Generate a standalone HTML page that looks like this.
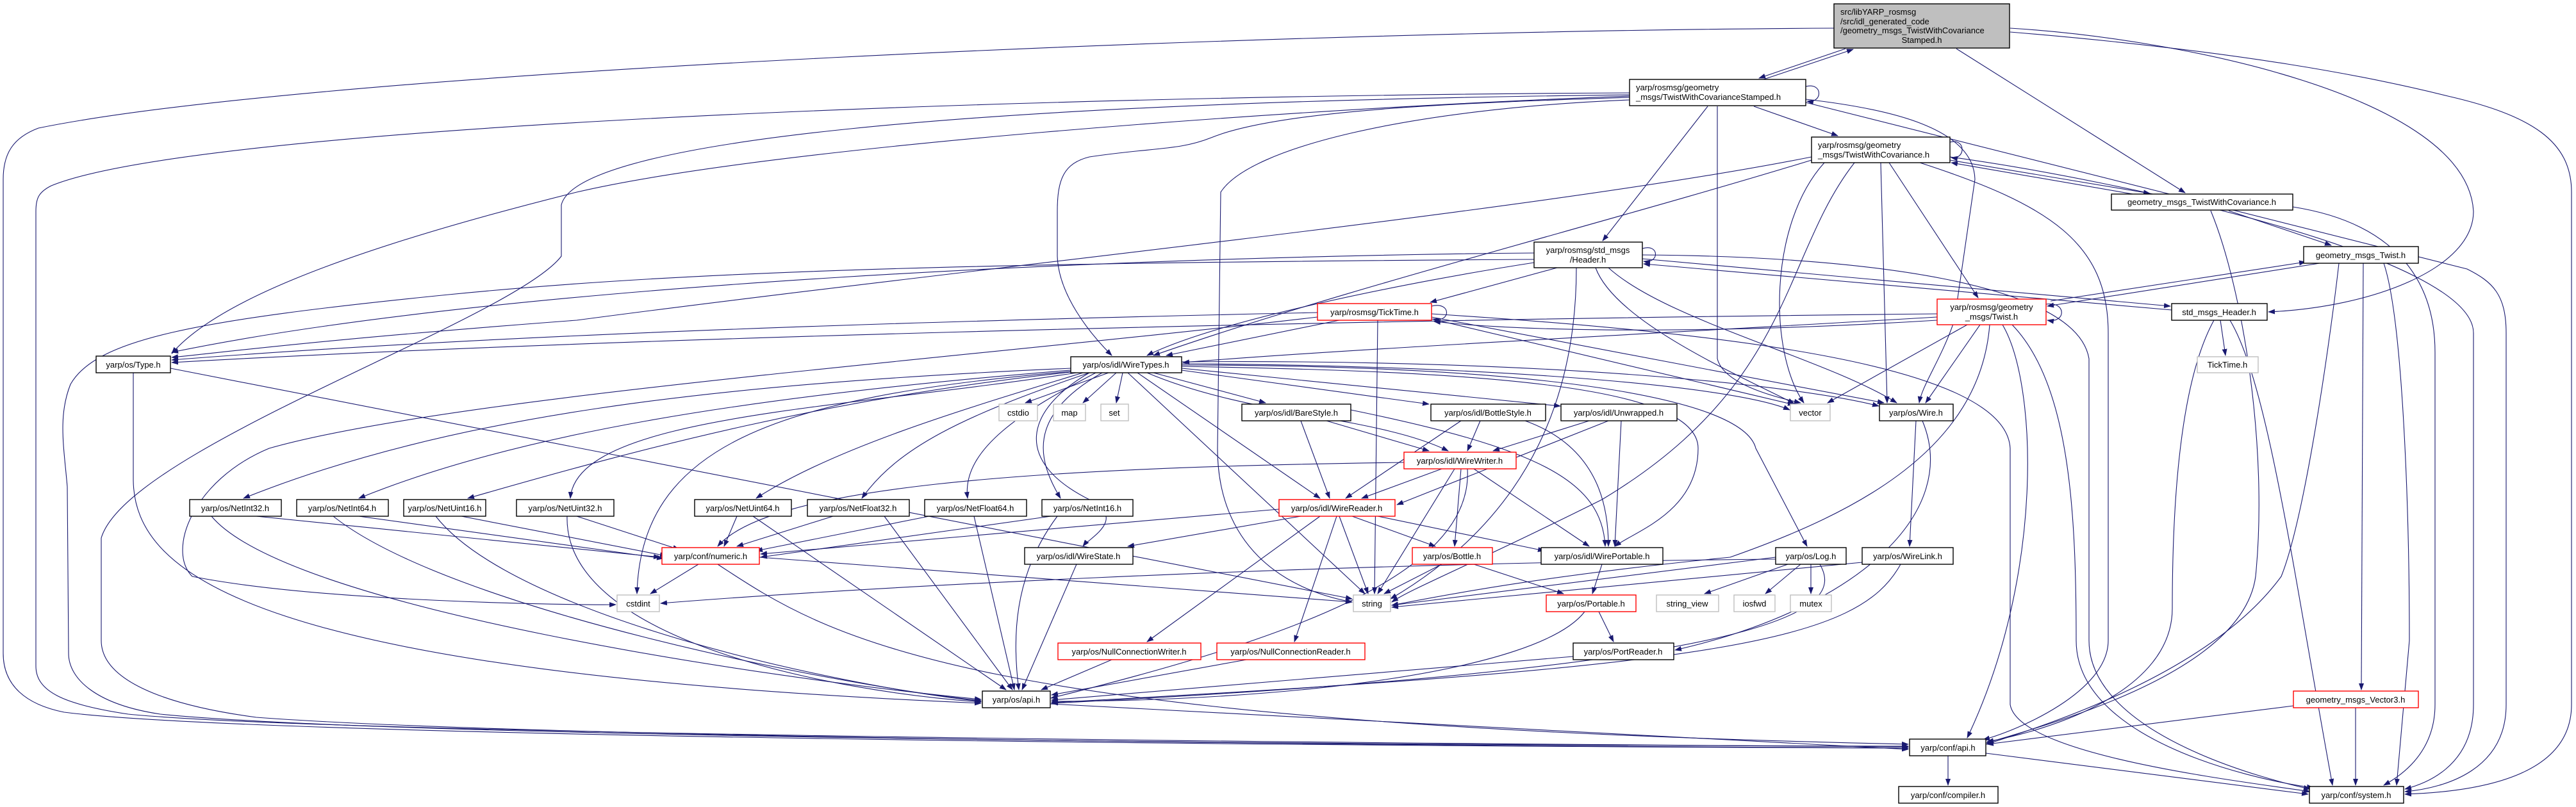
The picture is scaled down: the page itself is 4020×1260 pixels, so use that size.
<!DOCTYPE html>
<html><head><meta charset="utf-8"><style>
html,body{margin:0;padding:0;background:#fff;}
svg{display:block;}
text{font-family:"Liberation Sans",sans-serif;font-size:13px;fill:#000;}
.e{fill:none;stroke:#191970;stroke-width:1.1;}
.n{fill:#fff;stroke:#000;stroke-width:1.4;}
.r{fill:#fff;stroke:#ff0000;stroke-width:1.4;}
.g{fill:#fff;stroke:#bfbfbf;stroke-width:1.4;}
</style></head><body>
<svg width="4020" height="1260" viewBox="0 0 4020 1260" xmlns="http://www.w3.org/2000/svg">
<defs><marker id="a" markerWidth="11" markerHeight="8" refX="10" refY="4" orient="auto" markerUnits="userSpaceOnUse"><path d="M0,0 L11,4 L0,8 z" fill="#191970"/></marker></defs>
<g class="e" marker-end="url(#a)">
<!-- T -->
<path d="M2880,76 L2745,122"/>
<path d="M2752,124 L2892,77"/>
<path d="M3053,76 L3410,301"/>
<path d="M2862,44 C2000,48 500,110 60,200 C20,215 5,240 5,280 L5,1020 C5,1070 40,1100 100,1112 C400,1150 2000,1165 2978,1168"/>
<path d="M3137,44 C3400,60 3850,150 3860,330 C3860,420 3700,480 3540,487"/>
<path d="M3137,50 C3500,80 3700,120 3820,150 C3950,180 4013,220 4013,300 L4013,1100 C4013,1200 3900,1235 3753,1240"/>
<!-- S -->
<path d="M2818,135 C2845,128 2845,162 2820,158"/>
<path d="M2737,166 L2868,212"/>
<path d="M2665,166 L2501,376"/>
<path d="M2543,148 C1500,160 900,220 876,320 L876,400 C800,500 200,700 158,840 L158,1000 C158,1060 250,1100 400,1120 C800,1150 2000,1163 2978,1168"/>
<path d="M2543,145 C1500,150 300,200 80,290 C60,300 56,310 56,330 L56,1040 C56,1080 100,1100 200,1115 C500,1145 2000,1160 2978,1166"/>
<path d="M2543,150 C2000,170 1200,230 900,300 C500,400 330,480 268,552"/>
<path d="M2543,152 C2300,160 2000,170 1890,215 C1840,235 1800,230 1700,245 C1660,255 1650,280 1650,330 L1650,400 C1652,460 1700,520 1735,555"/>
<path d="M2543,156 C2200,170 1950,230 1905,300 L1900,700 C1900,850 2000,920 2110,940"/>
<path d="M2680,166 L2680,560 C2690,600 2770,620 2810,629"/>
<path d="M2818,155 C2950,170 3080,200 3082,280 L3050,500 C3030,560 3000,600 2995,629"/>
<path d="M2818,160 L3850,420 C3890,440 3911,460 3911,520 L3911,1100 C3911,1200 3820,1230 3753,1236"/>
<!-- TC -->
<path d="M3043,222 C3068,215 3068,250 3045,246"/>
<path d="M3043,250 L3355,302"/>
<path d="M3340,305 L3045,254"/>
<path d="M3043,245 C3300,280 3860,400 3860,520 L3860,1100 C3860,1200 3780,1225 3753,1232"/>
<path d="M2827,245 C2400,330 1500,420 900,500 C500,530 350,550 268,558"/>
<path d="M2827,250 C2500,350 2100,450 1800,555"/>
<path d="M2847,254 C2760,350 2760,550 2815,629"/>
<path d="M2935,254 L2945,629"/>
<path d="M2948,254 L3087,465"/>
<path d="M2894,254 C2780,400 2800,600 2500,780 C2300,880 2200,920 2172,940"/>
<path d="M2996,254 C3200,320 3290,380 3290,520 L3290,1000 C3290,1080 3150,1140 3095,1155"/>
<!-- gmTC -->
<path d="M3478,329 L3638,383"/>
<path d="M3450,329 C3500,450 3540,700 3520,900 C3500,1050 3200,1130 3100,1160"/>
<path d="M3578,323 C3750,350 3800,450 3800,550 L3800,1100 C3800,1180 3740,1215 3720,1226"/>
<!-- gmTw -->
<path d="M3620,411 L3195,478"/>
<path d="M3200,470 L3598,409"/>
<path d="M3688,411 L3685,1077"/>
<path d="M3650,411 C3640,500 3600,800 3560,900 C3450,1050 3200,1130 3100,1162"/>
<path d="M3720,411 C3750,500 3760,800 3760,1000 L3740,1226"/>
<!-- Hd -->
<path d="M2563,388 C2590,380 2590,412 2565,408"/>
<path d="M2563,404 L3387,478"/>
<path d="M3389,484 L2565,412"/>
<path d="M2563,398 C2900,400 3240,440 3260,560 L3260,1000 C3260,1150 3550,1220 3605,1232"/>
<path d="M2394,395 C1800,400 800,440 268,550"/>
<path d="M2430,418 L2232,472"/>
<path d="M2394,410 C2200,440 1900,500 1790,555"/>
<path d="M2490,418 C2520,500 2700,580 2800,630"/>
<path d="M2510,418 C2600,500 2850,560 2960,629"/>
<path d="M2460,418 C2460,600 2400,800 2170,935"/>
<path d="M2394,405 C1600,410 1100,420 700,460 C300,500 150,530 110,600 C90,650 100,700 105,760 L107,1020 C107,1060 150,1100 250,1115 C600,1150 2000,1163 2978,1165"/>
<!-- TT -->
<path d="M2234,478 C2265,470 2265,505 2236,498"/>
<path d="M2056,488 C1500,500 800,520 268,562"/>
<path d="M2090,500 L1820,555"/>
<path d="M2150,500 L2145,927"/>
<path d="M2234,490 C2700,520 3130,570 3137,700 L3137,1100 C3150,1180 3500,1220 3605,1236"/>
<path d="M2234,495 L2940,629"/>
<path d="M2230,497 L2800,632"/>
<path d="M2056,495 C1500,560 700,620 420,700 C300,750 260,860 300,900 C500,940 900,945 961,944"/>
<!-- Tw -->
<path d="M3193,475 C3225,470 3225,505 3195,500"/>
<path d="M3023,490 C2000,500 900,530 268,566"/>
<path d="M3023,495 C2600,520 2100,545 1846,566"/>
<path d="M3070,507 L2852,629"/>
<path d="M3090,507 L3005,629"/>
<path d="M3105,507 C3090,700 2900,800 2700,870 C2400,900 2250,930 2172,945"/>
<path d="M3125,507 C3180,600 3190,900 3070,1152"/>
<path d="M3140,507 C3230,600 3240,800 3240,1000 C3240,1150 3500,1215 3610,1230"/>
<path d="M3023,500 C2700,520 2400,520 2238,502"/>
<!-- WT -->
<path d="M1730,582 L1600,629"/>
<path d="M1742,582 L1690,629"/>
<path d="M1752,582 L1742,629"/>
<path d="M1800,582 L1975,629"/>
<path d="M1844,578 L2230,631"/>
<path d="M1844,575 L2435,634"/>
<path d="M1844,568 C2300,570 2700,600 2793,640"/>
<path d="M1844,565 C2400,560 2800,600 2932,634"/>
<path d="M1790,582 C1950,650 2150,650 2260,704"/>
<path d="M1775,582 L2060,778"/>
<path d="M1844,572 C2300,580 2650,600 2650,700 C2650,800 2550,830 2520,853"/>
<path d="M1844,570 C2400,570 2720,620 2740,700 L2820,853"/>
<path d="M1760,582 L2130,927"/>
<path d="M1700,582 C1600,640 1580,720 1700,780 C1760,810 1700,840 1690,853"/>
<path d="M1671,575 C1100,600 700,650 380,778"/>
<path d="M1671,578 C1150,620 800,680 560,778"/>
<path d="M1680,580 C1300,620 1000,700 730,778"/>
<path d="M1680,582 C1300,640 900,650 890,778"/>
<path d="M1690,582 C1500,640 1300,700 1180,778"/>
<path d="M1700,582 C1500,650 1400,700 1345,778"/>
<path d="M1710,582 C1600,640 1500,700 1510,778"/>
<path d="M1720,582 C1600,650 1620,720 1655,778"/>
<path d="M1671,580 C1200,620 1000,700 994,927"/>
<!-- WW -->
<path d="M2250,732 L2125,778"/>
<path d="M2300,732 L2480,853"/>
<path d="M2191,722 C1600,730 1200,760 1120,853"/>
<path d="M2270,732 L2150,927"/>
<path d="M2280,732 L2270,853"/>
<path d="M2290,732 C2300,900 2000,1000 1640,1090"/>
<!-- WR -->
<path d="M1996,795 L1187,865"/>
<path d="M2030,806 L1760,853"/>
<path d="M2110,806 L2240,853"/>
<path d="M2150,806 L2410,860"/>
<path d="M2090,806 L2135,927"/>
<path d="M2060,806 L1790,1002"/>
<path d="M2086,806 L2020,1002"/>
<!-- styles -->
<path d="M2070,657 L2230,704"/>
<path d="M2030,657 L2075,778"/>
<path d="M2108,640 C2400,700 2500,750 2505,853"/>
<path d="M2310,657 L2290,704"/>
<path d="M2280,657 L2100,778"/>
<path d="M2380,657 C2500,700 2510,800 2510,853"/>
<path d="M2480,657 L2330,704"/>
<path d="M2510,657 L2180,788"/>
<path d="M2530,657 L2520,853"/>
<!-- Net -->
<path d="M400,806 L1030,870"/>
<path d="M330,806 C450,950 1200,1060 1531,1092"/>
<path d="M560,806 L1035,872"/>
<path d="M520,806 C700,950 1300,1070 1531,1094"/>
<path d="M720,806 L1040,868"/>
<path d="M680,806 C800,960 1300,1070 1531,1095"/>
<path d="M900,806 L1060,858"/>
<path d="M885,806 C880,1000 1300,1080 1531,1096"/>
<path d="M1150,806 L1130,853"/>
<path d="M1175,806 L1570,1077"/>
<path d="M1300,806 L1150,853"/>
<path d="M1380,806 L1580,1077"/>
<path d="M1450,806 L1180,860"/>
<path d="M1520,806 L1583,1077"/>
<path d="M1640,806 L1187,870"/>
<path d="M1650,806 C1580,900 1580,1000 1590,1077"/>
<!-- num -->
<path d="M1090,881 L1015,927"/>
<path d="M1120,881 C1300,1000 1500,1130 2978,1162"/>
<path d="M1185,870 L2110,940"/>
<!-- Type -->
<path d="M208,582 L208,750 C210,900 400,1050 1531,1098"/>
<path d="M266,575 L2110,935"/>
<!-- misc -->
<path d="M2990,657 L2980,853"/>
<path d="M3000,657 C3060,800 2900,950 2614,1015"/>
<path d="M2500,881 L2485,927"/>
<path d="M2250,881 L2160,927"/>
<path d="M2300,881 L2440,927"/>
<path d="M2495,955 L2518,1002"/>
<path d="M2473,955 C2400,1050 2000,1095 1641,1095"/>
<path d="M2455,1025 L1641,1093"/>
<path d="M2771,870 L2172,945"/>
<path d="M2790,881 L2660,927"/>
<path d="M2810,881 L2755,927"/>
<path d="M2826,881 L2826,927"/>
<path d="M2771,873 C2000,880 1300,920 1031,942"/>
<path d="M2840,881 C2880,950 2800,1040 1641,1098"/>
<path d="M2906,878 L2172,948"/>
<path d="M2966,881 C2900,1000 2700,1040 1641,1097"/>
<path d="M1680,881 L1595,1077"/>
<path d="M1735,1030 L1625,1077"/>
<path d="M1945,1030 L1641,1085"/>
<path d="M1639,1099 L2978,1170"/>
<path d="M3040,1180 L3040,1226"/>
<path d="M3099,1176 L3602,1240"/>
<path d="M3579,1102 L3101,1162"/>
<path d="M3676,1105 L3676,1226"/>
<path d="M3465,500 L3473,555"/>
<path d="M3455,500 C3400,600 3390,800 3390,950 C3390,1080 3200,1140 3101,1158"/>
<path d="M3480,500 C3540,600 3580,900 3640,1226"/>
</g>
<!-- nodes -->
<rect x="2862" y="6" width="274" height="69" fill="#bfbfbf" stroke="#000" stroke-width="1.4"/>
<text x="2872" y="23">src/libYARP_rosmsg</text>
<text x="2872" y="38">/src/idl_generated_code</text>
<text x="2872" y="52">/geometry_msgs_TwistWithCovariance</text>
<text x="2999" y="67" text-anchor="middle">Stamped.h</text>

<rect class="n" x="2543" y="124" width="275" height="41"/>
<text x="2553" y="141">yarp/rosmsg/geometry</text>
<text x="2553" y="156">_msgs/TwistWithCovarianceStamped.h</text>

<rect class="n" x="2827" y="214" width="216" height="40"/>
<text x="2837" y="231">yarp/rosmsg/geometry</text>
<text x="2837" y="246">_msgs/TwistWithCovariance.h</text>

<rect class="n" x="3295" y="303" width="283" height="25"/><text x="3436" y="320" text-anchor="middle">geometry_msgs_TwistWithCovariance.h</text>
<rect class="n" x="3595" y="385" width="179" height="26"/><text x="3684" y="403" text-anchor="middle">geometry_msgs_Twist.h</text>

<rect class="n" x="2394" y="378" width="169" height="40"/>
<text x="2478" y="395" text-anchor="middle">yarp/rosmsg/std_msgs</text>
<text x="2478" y="410" text-anchor="middle">/Header.h</text>

<rect class="r" x="2056" y="474" width="178" height="26"/><text x="2145" y="492" text-anchor="middle">yarp/rosmsg/TickTime.h</text>

<rect class="r" x="3023" y="467" width="170" height="40"/>
<text x="3108" y="484" text-anchor="middle">yarp/rosmsg/geometry</text>
<text x="3108" y="499" text-anchor="middle">_msgs/Twist.h</text>

<rect class="n" x="3389" y="474" width="149" height="26"/><text x="3463" y="492" text-anchor="middle">std_msgs_Header.h</text>
<rect class="g" x="3429" y="557" width="95" height="25"/><text x="3476" y="574" text-anchor="middle">TickTime.h</text>

<rect class="n" x="150" y="556" width="116" height="26"/><text x="208" y="574" text-anchor="middle">yarp/os/Type.h</text>
<rect class="n" x="1671" y="557" width="173" height="25"/><text x="1757" y="574" text-anchor="middle">yarp/os/idl/WireTypes.h</text>

<rect class="g" x="1559" y="631" width="60" height="26"/><text x="1589" y="649" text-anchor="middle">cstdio</text>
<rect class="g" x="1644" y="631" width="50" height="26"/><text x="1669" y="649" text-anchor="middle">map</text>
<rect class="g" x="1718" y="631" width="43" height="26"/><text x="1739" y="649" text-anchor="middle">set</text>
<rect class="n" x="1938" y="631" width="170" height="26"/><text x="2023" y="649" text-anchor="middle">yarp/os/idl/BareStyle.h</text>
<rect class="n" x="2233" y="631" width="179" height="26"/><text x="2322" y="649" text-anchor="middle">yarp/os/idl/BottleStyle.h</text>
<rect class="n" x="2436" y="631" width="181" height="26"/><text x="2526" y="649" text-anchor="middle">yarp/os/idl/Unwrapped.h</text>
<rect class="g" x="2794" y="631" width="62" height="26"/><text x="2825" y="649" text-anchor="middle">vector</text>
<rect class="n" x="2933" y="631" width="115" height="26"/><text x="2990" y="649" text-anchor="middle">yarp/os/Wire.h</text>

<rect class="r" x="2191" y="706" width="175" height="26"/><text x="2278" y="724" text-anchor="middle">yarp/os/idl/WireWriter.h</text>

<rect class="n" x="296" y="780" width="143" height="26"/><text x="367" y="798" text-anchor="middle">yarp/os/NetInt32.h</text>
<rect class="n" x="463" y="780" width="143" height="26"/><text x="534" y="798" text-anchor="middle">yarp/os/NetInt64.h</text>
<rect class="n" x="630" y="780" width="128" height="26"/><text x="694" y="798" text-anchor="middle">yarp/os/NetUint16.h</text>
<rect class="n" x="806" y="780" width="152" height="26"/><text x="882" y="798" text-anchor="middle">yarp/os/NetUint32.h</text>
<rect class="n" x="1084" y="780" width="151" height="26"/><text x="1159" y="798" text-anchor="middle">yarp/os/NetUint64.h</text>
<rect class="n" x="1260" y="780" width="159" height="26"/><text x="1339" y="798" text-anchor="middle">yarp/os/NetFloat32.h</text>
<rect class="n" x="1443" y="780" width="159" height="26"/><text x="1522" y="798" text-anchor="middle">yarp/os/NetFloat64.h</text>
<rect class="n" x="1626" y="780" width="142" height="26"/><text x="1697" y="798" text-anchor="middle">yarp/os/NetInt16.h</text>
<rect class="r" x="1996" y="780" width="181" height="26"/><text x="2086" y="798" text-anchor="middle">yarp/os/idl/WireReader.h</text>

<rect class="r" x="1033" y="855" width="152" height="26"/><text x="1109" y="873" text-anchor="middle">yarp/conf/numeric.h</text>
<rect class="n" x="1599" y="855" width="169" height="26"/><text x="1683" y="873" text-anchor="middle">yarp/os/idl/WireState.h</text>
<rect class="r" x="2204" y="855" width="125" height="26"/><text x="2266" y="873" text-anchor="middle">yarp/os/Bottle.h</text>
<rect class="n" x="2405" y="855" width="190" height="26"/><text x="2500" y="873" text-anchor="middle">yarp/os/idl/WirePortable.h</text>
<rect class="n" x="2771" y="855" width="110" height="26"/><text x="2826" y="873" text-anchor="middle">yarp/os/Log.h</text>
<rect class="n" x="2906" y="855" width="142" height="26"/><text x="2977" y="873" text-anchor="middle">yarp/os/WireLink.h</text>

<rect class="g" x="963" y="929" width="66" height="26"/><text x="996" y="947" text-anchor="middle">cstdint</text>
<rect class="g" x="2112" y="929" width="58" height="26"/><text x="2141" y="947" text-anchor="middle">string</text>
<rect class="r" x="2413" y="929" width="140" height="26"/><text x="2483" y="947" text-anchor="middle">yarp/os/Portable.h</text>
<rect class="g" x="2585" y="929" width="97" height="26"/><text x="2633" y="947" text-anchor="middle">string_view</text>
<rect class="g" x="2706" y="929" width="64" height="26"/><text x="2738" y="947" text-anchor="middle">iosfwd</text>
<rect class="g" x="2794" y="929" width="64" height="26"/><text x="2826" y="947" text-anchor="middle">mutex</text>

<rect class="r" x="1651" y="1004" width="223" height="26"/><text x="1762" y="1022" text-anchor="middle">yarp/os/NullConnectionWriter.h</text>
<rect class="r" x="1899" y="1004" width="231" height="26"/><text x="2014" y="1022" text-anchor="middle">yarp/os/NullConnectionReader.h</text>
<rect class="n" x="2455" y="1004" width="157" height="26"/><text x="2533" y="1022" text-anchor="middle">yarp/os/PortReader.h</text>

<rect class="n" x="1533" y="1079" width="106" height="26"/><text x="1586" y="1097" text-anchor="middle">yarp/os/api.h</text>
<rect class="r" x="3579" y="1079" width="195" height="26"/><text x="3676" y="1097" text-anchor="middle">geometry_msgs_Vector3.h</text>
<rect class="n" x="2980" y="1154" width="119" height="26"/><text x="3040" y="1172" text-anchor="middle">yarp/conf/api.h</text>
<rect class="n" x="2963" y="1228" width="155" height="26"/><text x="3040" y="1246" text-anchor="middle">yarp/conf/compiler.h</text>
<rect class="n" x="3604" y="1228" width="147" height="26"/><text x="3677" y="1246" text-anchor="middle">yarp/conf/system.h</text>
</svg>
</body></html>
